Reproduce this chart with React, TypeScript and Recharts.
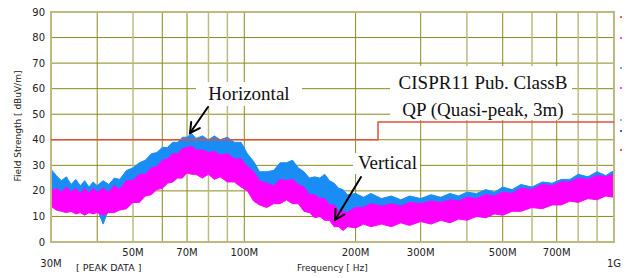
import {
  ComposedChart,
  Area,
  Line,
  XAxis,
  YAxis,
  CartesianGrid,
  ReferenceArea,
} from 'recharts'

// frequency points in MHz
const freqs = [
  30, 31, 32, 33, 34, 35, 36, 37, 38, 39,
  40, 41.5, 43, 44.5, 46, 48, 50, 52, 54, 56,
  58, 60, 62, 64, 66, 68, 70, 72, 74, 77,
  80, 83, 86, 90, 94, 98, 102, 106, 110, 115,
  120, 125, 130, 135, 140, 145, 150, 155, 160, 165,
  170, 175, 180, 185, 190, 200, 210, 220, 235, 250,
  265, 280, 300, 320, 340, 360, 380, 400, 425, 450,
  475, 500, 530, 560, 600, 640, 680, 720, 760, 800,
  850, 900, 950, 1000,
]

// Horizontal polarisation (blue) peak band
const horizHigh = [
  28.5, 26, 24, 25.5, 22.5, 24.5, 22, 24, 21.5, 23.5,
  22, 24, 22.5, 25, 24.5, 28, 29, 31, 32, 34.5,
  35, 37, 37, 39, 39, 41, 41, 42.5, 40.5, 41.5,
  40, 41.5, 40, 41, 39, 39, 34.5, 31.5, 27.5, 27.5,
  28, 31, 31, 32, 29, 27.5, 25, 25.5, 25, 26.5,
  24, 23, 21, 20.5, 18.5, 19, 17.5, 19, 17, 18,
  16.5, 18, 17, 18.5, 17.5, 19, 18, 19.5, 19, 20.5,
  19.5, 21.5, 20.5, 22.5, 21.5, 23.5, 23, 24.5, 24.5, 26.5,
  25.5, 27.5, 26, 28,
]
const horizLow = [
  17, 16, 15, 15.5, 14, 15, 13.5, 14.5, 13.5, 14,
  13, 7, 13, 14.5, 14.5, 15.5, 17, 18, 19.5, 21,
  22, 23.5, 24.5, 26, 26.5, 27.5, 28.5, 29, 28, 27.5,
  28, 27, 27, 26, 25, 24, 21.5, 18.5, 16, 16,
  16.5, 17.5, 18, 17.5, 16.5, 14.5, 13, 12, 11.5, 11,
  10, 8.5, 7.5, 7, 7.5, 8, 8.5, 8.5, 8.5, 8.5,
  9, 9, 9.5, 9.5, 10, 10, 10.5, 11, 11.5, 9.5,
  12.5, 13, 13.5, 14.5, 15, 15.5, 16, 17, 17.5, 18,
  18.5, 19, 19.5, 20,
]

// Vertical polarisation (magenta) peak band
const vertHigh = [
  20, 21, 19.5, 21.5, 19.5, 21, 19, 21, 19, 21,
  19.5, 21, 19.5, 22, 20.5, 24, 24, 26.5, 26.5, 29,
  29.5, 32, 32.5, 34.5, 34.5, 36.5, 37, 37.5, 36, 36,
  35, 35.5, 34, 34.5, 32.5, 32.5, 29.5, 27.5, 24, 23,
  22, 24.5, 24, 24.5, 22.5, 21.5, 18.5, 18.5, 17, 17,
  14.5, 14.5, 12, 12, 11.5, 13.5, 13.5, 15, 14, 15,
  14, 15.5, 15, 16, 15.5, 16.5, 16, 17.5, 17, 18.5,
  18, 19.5, 19, 21, 20.5, 22.5, 22, 23.5, 23.5, 25,
  24.5, 26, 25.5, 26.5,
]
const vertLow = [
  14, 12.5, 12, 11.5, 12, 11, 11.5, 10.5, 11.5, 11,
  11.5, 10.5, 11.5, 11.5, 12.5, 13, 15.5, 15.5, 18, 18.5,
  20.5, 21, 23, 23.5, 25, 25, 27, 26.5, 26.5, 25,
  26.5, 24.5, 25.5, 23.5, 23.5, 21.5, 20, 16, 14.5, 13.5,
  15, 15, 16.5, 15, 15, 12, 11.5, 9.5, 10, 8.5,
  8.5, 6, 6, 4.5, 6, 5.5, 7, 6, 7, 6,
  7.5, 6.5, 8, 7, 8.5, 7.5, 9, 8.5, 10, 9.5,
  11, 10.5, 12, 12, 13.5, 13, 14.5, 14.5, 16, 15.5,
  17, 16.5, 18, 17.5,
]

// CISPR11 class B QP limit
const limitFreqs = [30, 230, 1000]
const limitLevels = [40, 47, 47]

const yTicks = [0, 10, 20, 30, 40, 50, 60, 70, 80, 90]
const xTicks = [30, 50, 70, 100, 200, 300, 500, 700, 1000]
const xTickLabels = ['30M', '50M', '70M', '100M', '200M', '300M', '500M', '700M', '1G']
const darkGrid = [40, 60, 70, 100, 200, 300, 500, 700]
const lightGrid = [50, 80, 90, 400, 600, 800, 900]

const data = freqs.map((f, i) => ({
  f,
  horiz: [horizLow[i], horizHigh[i]],
  vert: [vertLow[i], vertHigh[i]],
}))
const limitData = limitFreqs.map((f, i) => ({ f, limit: limitLevels[i] }))

const BLUE = '#1a8cf5'
const MAGENTA = '#ff00ff'
const OLIVE = '#8a8a1c'
const OLIVE_LIGHT = '#bdba80'

function FreqTick({ x, y, payload }: any) {
  const i = xTicks.indexOf(payload.value)
  const edge = i === 0 || i === xTicks.length - 1
  return (
    <text
      x={x}
      y={y}
      dy={edge ? 25 : 14}
      textAnchor="middle"
      fontSize={10}
      fontFamily="DejaVu Sans"
      fill="#222"
    >
      {xTickLabels[i]}
    </text>
  )
}

function Arrow({ from, to }: { from: [number, number]; to: [number, number] }) {
  const dx = to[0] - from[0]
  const dy = to[1] - from[1]
  const len = Math.hypot(dx, dy)
  const bx = -dx / len
  const by = -dy / len
  const head = 11
  const t = 0.5
  const p1 = [to[0] + head * (bx * Math.cos(t) - by * Math.sin(t)), to[1] + head * (bx * Math.sin(t) + by * Math.cos(t))]
  const p2 = [to[0] + head * (bx * Math.cos(-t) - by * Math.sin(-t)), to[1] + head * (bx * Math.sin(-t) + by * Math.cos(-t))]
  return (
    <g stroke="#000" strokeWidth={2} fill="none" strokeLinecap="round">
      <line x1={from[0]} y1={from[1]} x2={to[0]} y2={to[1]} />
      <polyline points={`${p1[0]},${p1[1]} ${to[0]},${to[1]} ${p2[0]},${p2[1]}`} />
    </g>
  )
}

const serif = { fontFamily: '"Liberation Serif", serif', fontSize: 19, color: '#111', lineHeight: 1 }

export default function App() {
  return (
    <div style={{ position: 'absolute', left: 0, top: 0, width: 627, height: 278, background: '#fff' }}>
      <ComposedChart
        width={627}
        height={278}
        data={data}
        margin={{ top: 12, right: 13, bottom: 0, left: 0 }}
      >
        <CartesianGrid horizontal vertical={false} stroke={OLIVE} strokeWidth={1} />
        <CartesianGrid
          horizontal={false}
          vertical
          verticalValues={lightGrid}
          stroke={OLIVE_LIGHT}
          strokeWidth={1.5}
        />
        <CartesianGrid
          horizontal={false}
          vertical
          verticalValues={darkGrid}
          stroke={OLIVE}
          strokeWidth={1}
        />
        <XAxis
          dataKey="f"
          type="number"
          scale="log"
          domain={[30, 1000]}
          ticks={xTicks}
          interval={0}
          tick={<FreqTick />}
          tickLine={false}
          axisLine={false}
          tickSize={0}
          tickMargin={0}
          height={36}
          allowDataOverflow
        />
        <YAxis
          domain={[0, 90]}
          ticks={yTicks}
          interval={0}
          tickLine={false}
          axisLine={false}
          tickSize={0}
          tickMargin={6}
          width={51}
          tick={{ fontSize: 10, fontFamily: 'DejaVu Sans', fill: '#222' }}
        />
        <Area
          dataKey="horiz"
          type="linear"
          stroke={BLUE}
          strokeWidth={1}
          fill={BLUE}
          fillOpacity={1}
          dot={false}
          activeDot={false}
          isAnimationActive={false}
        />
        <Area
          dataKey="vert"
          type="linear"
          stroke={MAGENTA}
          strokeWidth={1}
          fill={MAGENTA}
          fillOpacity={1}
          dot={false}
          activeDot={false}
          isAnimationActive={false}
        />
        <Line
          data={limitData}
          dataKey="limit"
          type="stepAfter"
          stroke="#e2503a"
          strokeWidth={1.5}
          dot={false}
          activeDot={false}
          isAnimationActive={false}
        />
        <ReferenceArea x1={30} x2={1000} y1={0} y2={90} fill="none" stroke={OLIVE_LIGHT} strokeWidth={2} />
      </ComposedChart>

      {/* text boxes */}
      <div style={{ position: 'absolute', left: 390, top: 66, width: 182, height: 54, background: '#fff' }} />
      <div style={{ ...serif, position: 'absolute', left: 370, width: 226, top: 73, textAlign: 'center' }}>
        CISPR11 Pub. ClassB
      </div>
      <div style={{ ...serif, position: 'absolute', left: 370, width: 226, top: 100, textAlign: 'center' }}>
        QP (Quasi-peak, 3m)
      </div>
      <div style={{ position: 'absolute', left: 196, top: 82, width: 106, height: 24, background: '#fff' }} />
      <div style={{ ...serif, position: 'absolute', left: 190, width: 118, top: 84, textAlign: 'center' }}>
        Horizontal
      </div>
      <div style={{ position: 'absolute', left: 353, top: 153, width: 67, height: 21, background: '#fff' }} />
      <div style={{ ...serif, position: 'absolute', left: 340, width: 95, top: 153, textAlign: 'center' }}>
        Vertical
      </div>

      {/* legend remnants at right edge */}
      {[
        [16, '#ff5050'],
        [37, '#ff40ff'],
        [67, '#60b0ff'],
        [87, '#ff40ff'],
        [119, '#b0b0b0'],
        [130, '#4060ff'],
        [149, '#ff5050'],
      ].map(([y, c]) => (
        <div key={String(y)} style={{ position: 'absolute', left: 620, top: y as number, width: 2, height: 2, background: c as string }} />
      ))}

      <svg width={627} height={278} style={{ position: 'absolute', left: 0, top: 0, pointerEvents: 'none' }}>
        <Arrow from={[208, 107]} to={[190, 133]} />
        <Arrow from={[361, 177]} to={[335, 220]} />
        <text
          transform="translate(18,126) rotate(-90)"
          textAnchor="middle"
          dominantBaseline="middle"
          fontSize={9}
          fontFamily="DejaVu Sans"
          fill="#222"
        >
          Field Strength [ dBuV/m]
        </text>
        <text x={76} y={271} fontSize={9.5} fontFamily="DejaVu Sans" fill="#222">
          [ PEAK DATA ]
        </text>
        <text x={297} y={271} fontSize={9} fontFamily="DejaVu Sans" fill="#222">
          Frequency [ Hz]
        </text>
      </svg>
    </div>
  )
}
